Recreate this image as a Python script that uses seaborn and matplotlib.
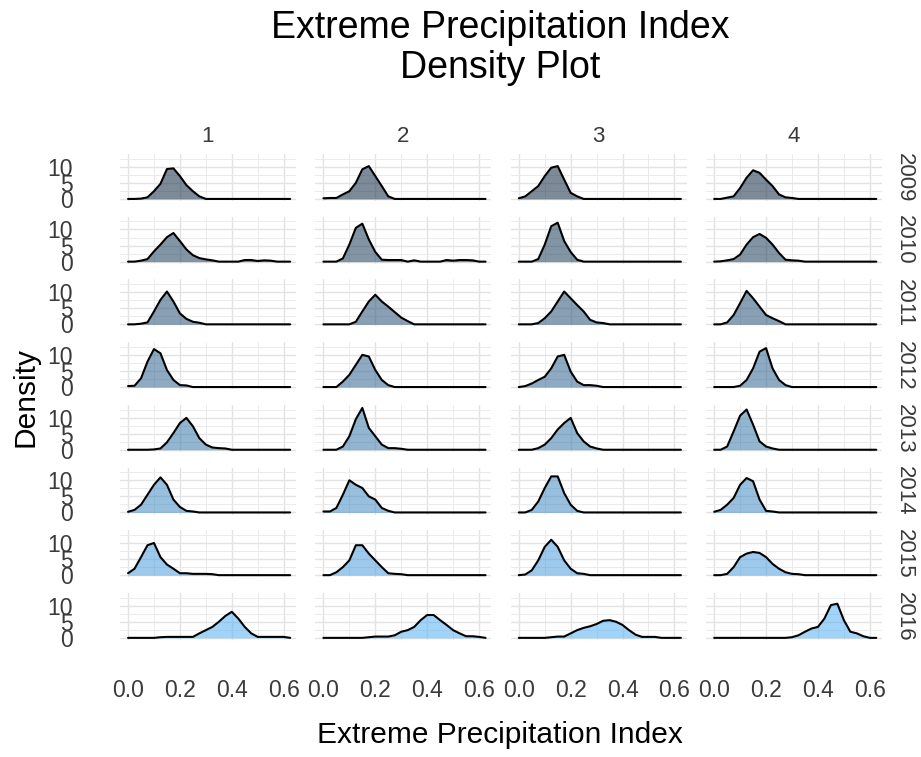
import numpy as np
import pandas as pd
import matplotlib
matplotlib.use("Agg")
import matplotlib.pyplot as plt
import seaborn as sns
from matplotlib.colors import LinearSegmentedColormap
from matplotlib.ticker import FixedLocator

# ---------------- data ----------------
years = [2009, 2010, 2011, 2012, 2013, 2014, 2015, 2016]
groups = ["1", "2", "3", "4"]
x_grid = [0.0, 0.025, 0.05, 0.075, 0.1, 0.125, 0.15, 0.175, 0.2, 0.225,
          0.25, 0.275, 0.3, 0.325, 0.35, 0.375, 0.4, 0.425, 0.45, 0.475,
          0.5, 0.525, 0.55, 0.575, 0.6, 0.625]
x_ticks = [0.0, 0.2, 0.4, 0.6]
x_tick_labels = ["0.0", "0.2", "0.4", "0.6"]
x_minor = [0.1, 0.3, 0.5]
y_ticks = [0, 5, 10]
y_minor = [2.5, 7.5, 12.5]

# density values read at x_grid (trailing zeros omitted)
dens_g1 = {
    2009: [0, 0, 0.1, 0.5, 2.4, 4.7, 9.3, 9.5, 7.1, 4.3, 2.4, 0.8],
    2010: [0, 0, 0.3, 0.8, 3.2, 5.3, 7.6, 8.9, 6.4, 3.8, 2.0, 1.1, 0.7, 0.4, 0, 0, 0, 0, 0.5, 0.5, 0.2, 0.4, 0.3],
    2011: [0, 0, 0.2, 0.6, 4.0, 7.6, 10.2, 7.1, 3.4, 1.7, 0.8, 0.5],
    2012: [0.3, 0.4, 2.7, 7.9, 11.8, 10.5, 5.3, 2.2, 0.6, 0.5],
    2013: [0, 0, 0, 0, 0.1, 0.4, 2.3, 5.2, 8.3, 9.9, 7.3, 3.6, 1.6, 0.7, 0.5, 0.4],
    2014: [0.2, 0.8, 2.4, 5.5, 8.6, 10.9, 8.6, 4.0, 1.7, 0.5, 0.3],
    2015: [0.6, 2.0, 5.6, 9.3, 10.0, 5.6, 3.3, 2.0, 0.6, 0.6, 0.4, 0.4, 0.4, 0.3],
    2016: [0, 0, 0, 0, 0, 0.2, 0.3, 0.3, 0.3, 0.3, 0.3, 1.4, 2.4, 3.4, 5.0, 6.8, 8.1, 6.0, 3.4, 1.4, 0.3, 0.3, 0.3, 0.3, 0.3],
}
dens_g2 = {
    2009: [0.2, 0.3, 0.3, 1.4, 2.4, 5.0, 9.2, 10.2, 7.1, 4.0, 0.8],
    2010: [0, 0, 0, 1.0, 5.3, 10.5, 11.8, 6.9, 3.0, 0.6, 0.5, 0.5, 0.5, 0, 0.4, 0, 0, 0, 0, 0.5, 0.3, 0.5, 0.5, 0.4],
    2011: [0, 0, 0, 0, 0, 0.8, 4.0, 7.1, 9.2, 7.1, 5.5, 3.8, 2.1, 1.0],
    2012: [0, 0, 0, 1.7, 3.8, 6.9, 10.0, 9.5, 5.3, 2.2, 0.6],
    2013: [0, 0, 0, 1.0, 4.2, 9.5, 13.0, 6.8, 4.2, 1.6, 0.5, 0.5, 0.3],
    2014: [0.3, 0.3, 1.4, 5.5, 10.0, 8.6, 7.6, 5.0, 4.0, 1.4, 0.5],
    2015: [0, 0, 0.9, 2.5, 4.6, 9.3, 9.3, 6.7, 4.6, 2.5, 0.6, 0.4, 0.3],
    2016: [0, 0, 0, 0, 0, 0, 0, 0.2, 0.4, 0.4, 0.4, 0.8, 1.9, 2.4, 3.4, 5.5, 7.1, 7.1, 5.5, 4.0, 2.4, 1.4, 0.5, 0.5, 0.3],
}
dens_g3 = {
    2009: [0.2, 0.8, 2.4, 4.0, 7.1, 9.7, 10.2, 6.0, 1.9, 0.8],
    2010: [0, 0, 0, 0.8, 5.3, 11.0, 12.1, 6.4, 3.0, 0.6],
    2011: [0, 0, 0, 0.4, 1.9, 4.0, 7.1, 10.2, 8.1, 6.0, 4.0, 1.4, 0.6, 0.4],
    2012: [0, 0.3, 1.1, 2.2, 3.2, 5.8, 9.5, 10.0, 4.8, 1.7, 0.6, 0.6, 0.4],
    2013: [0, 0, 0, 0.5, 1.6, 3.6, 6.3, 8.3, 9.9, 5.2, 2.6, 1.0, 0.4],
    2014: [0, 0, 0.8, 3.4, 7.6, 11.2, 11.2, 6.0, 2.4, 0.5],
    2015: [0, 0.2, 1.5, 4.6, 8.8, 11.0, 8.8, 4.6, 2.0, 0.6, 0.4],
    2016: [0, 0, 0, 0, 0, 0.2, 0.4, 0.4, 1.4, 2.4, 3.1, 3.6, 4.3, 5.3, 5.5, 5.0, 4.0, 2.4, 1.0, 0.3, 0.3, 0.3],
}
dens_g4 = {
    2009: [0, 0, 0.4, 0.8, 3.4, 6.6, 8.9, 8.1, 6.0, 4.0, 1.4, 0.5, 0.3],
    2010: [0, 0.1, 0.4, 0.8, 2.2, 5.3, 7.6, 8.6, 7.4, 5.3, 2.7, 0.6, 0.4, 0.3],
    2011: [0, 0, 0.6, 2.9, 6.6, 10.4, 8.1, 5.5, 2.9, 1.9, 1.0],
    2012: [0, 0, 0, 0, 0.4, 2.2, 5.8, 11.0, 12.1, 5.8, 2.2, 0.6],
    2013: [0, 0, 1.0, 5.7, 10.6, 12.5, 7.8, 2.6, 1.0, 0.4],
    2014: [0.2, 0.8, 2.4, 4.5, 8.6, 10.7, 9.7, 4.0, 0.5, 0.3],
    2015: [0, 0, 0.4, 2.5, 5.6, 6.7, 7.2, 6.9, 5.6, 3.5, 2.0, 0.9, 0.4, 0.3],
    2016: [0, 0, 0, 0, 0, 0, 0, 0, 0, 0, 0, 0, 0.2, 0.8, 1.9, 2.9, 3.4, 6.0, 10.2, 10.6, 5.5, 1.9, 1.4, 0.5],
}

title_text = "Extreme Precipitation Index\nDensity Plot"
x_label = "Extreme Precipitation Index"
y_label = "Density"

# ---------------- long table ----------------
rows = []
for grp, dens in zip(groups, [dens_g1, dens_g2, dens_g3, dens_g4]):
    for yr in years:
        vals = list(dens[yr]) + [0.0] * (len(x_grid) - len(dens[yr]))
        for xv, dv in zip(x_grid, vals):
            rows.append({"group": grp, "year": yr, "x": xv, "density": dv})
df = pd.DataFrame(rows)

# ---------------- style ----------------
sns.set_theme(style="white")
plt.rcParams["font.family"] = ["Liberation Sans", "DejaVu Sans"]

cmap = LinearSegmentedColormap.from_list("gg", ["#132B43", "#56B1F7"])
TXT = "#3a3a3a"


def draw(data, **kw):
    ax = plt.gca()
    yr = data["year"].iloc[0]
    col = cmap((yr - years[0]) / (years[-1] - years[0]))
    ax.fill_between(data["x"], data["density"], 0, color=col, alpha=0.55,
                    lw=0, zorder=2)
    sns.lineplot(data=data, x="x", y="density", color="black", lw=1.5,
                 ax=ax, zorder=3, estimator=None, sort=False)


g = sns.FacetGrid(df, row="year", col="group", row_order=years,
                  col_order=groups, sharex=True, sharey=True,
                  height=1, aspect=2, despine=False)
g.map_dataframe(draw)

fig = g.figure
fig.set_size_inches(9.21, 7.57)
fig.set_dpi(100)

for i, yr in enumerate(years):
    for j, grp in enumerate(groups):
        ax = g.axes[i, j]
        ax.set_title("")
        ax.set_xlabel("")
        ax.set_ylabel("")
        ax.set_facecolor("white")
        for s in ax.spines.values():
            s.set_visible(False)
        ax.set_xlim(-0.031, 0.647)
        ax.set_ylim(-0.665, 13.965)
        ax.xaxis.set_major_locator(FixedLocator(x_ticks))
        ax.xaxis.set_minor_locator(FixedLocator(x_minor))
        ax.yaxis.set_major_locator(FixedLocator(y_ticks))
        ax.yaxis.set_minor_locator(FixedLocator(y_minor))
        ax.grid(which="major", color="#E3E3E3", lw=1.0, zorder=0)
        ax.grid(which="minor", color="#EBEBEB", lw=0.7, zorder=0)
        ax.set_axisbelow(True)
        ax.tick_params(which="both", length=0)
        ax.tick_params(axis="x", pad=28, labelsize=16.5, labelcolor=TXT)
        ax.tick_params(axis="y", pad=34, labelsize=16.5, labelcolor=TXT)
        if i == len(years) - 1:
            ax.set_xticklabels(x_tick_labels)
        else:
            ax.tick_params(axis="x", labelbottom=False)
        if j == 0:
            ax.set_yticklabels([str(v) for v in y_ticks])
        else:
            ax.tick_params(axis="y", labelleft=False)
        if i == 0:
            ax.annotate(grp, xy=(0.5, 1), xycoords="axes fraction",
                        xytext=(0, 12.5), textcoords="offset points",
                        ha="center", va="center", fontsize=16, color=TXT)
        if j == len(groups) - 1:
            ax.annotate(str(yr), xy=(1, 0.5), xycoords="axes fraction",
                        xytext=(16, 0), textcoords="offset points",
                        ha="center", va="center", rotation=-90,
                        fontsize=16, color=TXT)

fig.subplots_adjust(left=120 / 921, right=882 / 921,
                    top=1 - 154 / 757, bottom=1 - 640 / 757,
                    wspace=0.111, hspace=0.332)

fig.text(500 / 921, 1 - 48 / 757, title_text, ha="center", va="center",
         fontsize=27, color="black", linespacing=1.12)
fig.text(500 / 921, 1 - 735 / 757, x_label, ha="center", va="center",
         fontsize=21.5, color="black")
fig.text(25 / 921, 1 - 397 / 757, y_label, ha="center", va="center",
         rotation=90, fontsize=21.5, color="black")

fig.savefig("out.png", dpi=100, facecolor="white")
